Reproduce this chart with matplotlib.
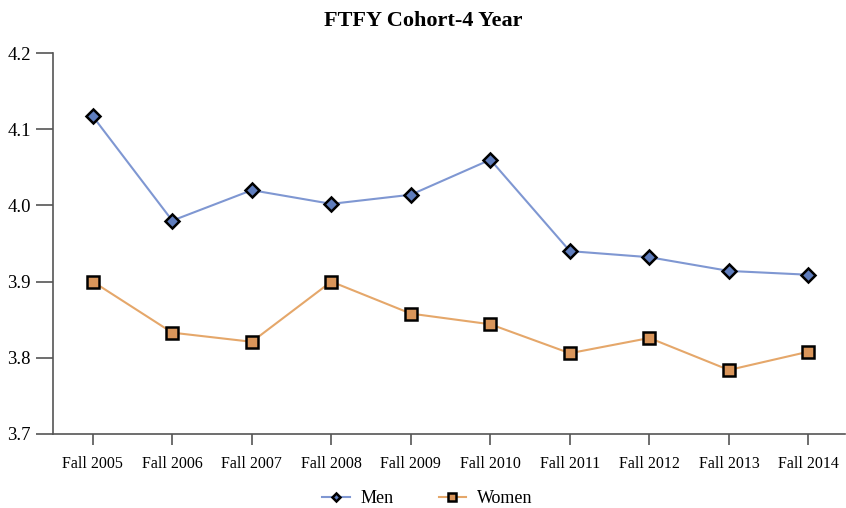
import numpy as np
import matplotlib.pyplot as plt

plt.rcParams['font.family'] = ['Liberation Serif', 'DejaVu Serif']

terms = ['Fall 2005', 'Fall 2006', 'Fall 2007', 'Fall 2008', 'Fall 2009',
         'Fall 2010', 'Fall 2011', 'Fall 2012', 'Fall 2013', 'Fall 2014']
men = [4.117, 3.980, 4.020, 4.002, 4.014, 4.060, 3.940, 3.932, 3.914, 3.909]
women = [3.900, 3.833, 3.821, 3.900, 3.858, 3.844, 3.806, 3.826, 3.784, 3.808]
yticks = [3.7, 3.8, 3.9, 4.0, 4.1, 4.2]

fig = plt.figure(figsize=(8.46, 5.08), dpi=100)
ax = fig.add_axes([53 / 846, 74 / 508, 792 / 846, 381 / 508])

x = np.arange(len(terms))
ax.plot(x, men, color='#7f97d2', lw=1.5, marker='D', ms=7,
        mfc='#5f7dbd', mec='black', mew=1.8, label='Men', zorder=3)
ax.plot(x, women, color='#e5a76a', lw=1.5, marker='s', ms=9,
        mfc='#d9955a', mec='black', mew=1.8, label='Women', zorder=3)

ax.set_xlim(-0.5, len(terms) - 0.54)
ax.set_ylim(3.7, 4.2)
ax.set_xticks(x)
ax.set_xticklabels(terms)
ax.set_yticks(yticks)
ax.set_yticklabels(['%.1f' % v for v in yticks])
ax.tick_params(axis='y', length=12, width=1.2, color='#555555', labelsize=13.5, pad=4)
ax.tick_params(axis='x', length=8, width=1.2, color='#555555', labelsize=11.5, pad=8)
for side in ['top', 'right']:
    ax.spines[side].set_visible(False)
for side in ['left', 'bottom']:
    ax.spines[side].set_color('#555555')
    ax.spines[side].set_linewidth(1.2)

fig.suptitle('FTFY Cohort-4 Year', y=0.978, fontsize=16, fontweight='bold')
leg = fig.legend(loc='lower center', bbox_to_anchor=(0.505, -0.03), ncol=2,
                 frameon=False, fontsize=13, handlelength=1.5, columnspacing=2.5,
                 markerscale=0.6, handletextpad=0.6)
fig.savefig('out.png', dpi=100)
